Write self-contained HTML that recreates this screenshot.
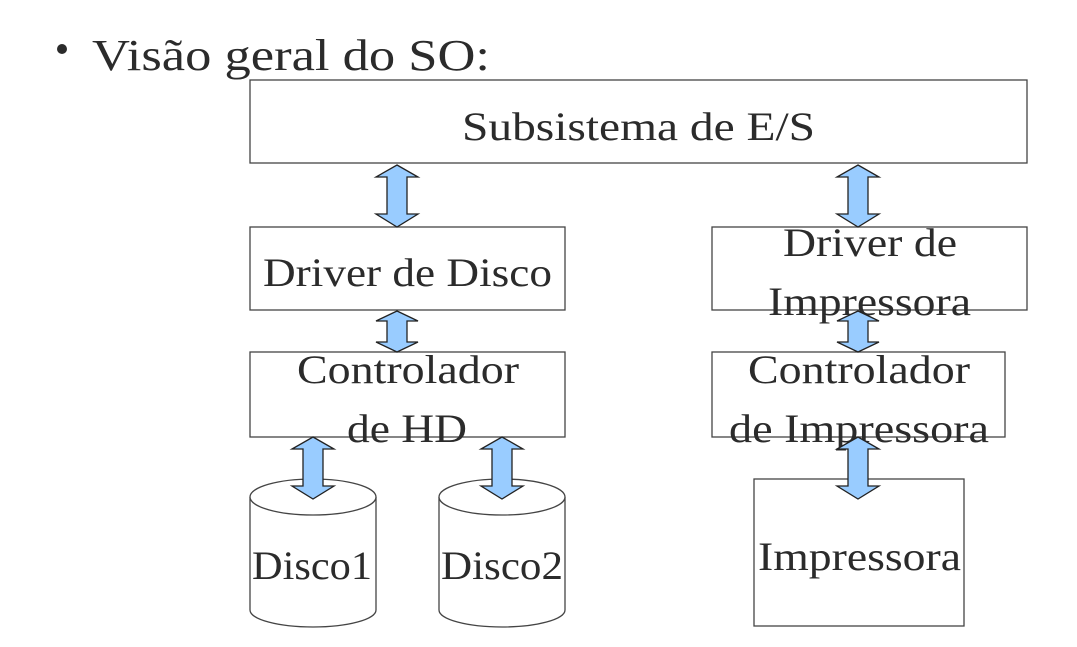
<!DOCTYPE html>
<html><head><meta charset="utf-8"><style>
html,body{margin:0;padding:0;background:#fff;}
svg{display:block;}
text{font-family:"Liberation Serif",serif;fill:#2b2b2b;}
</style></head><body>
<svg width="1077" height="647" viewBox="0 0 1077 647" xmlns="http://www.w3.org/2000/svg">
<defs>
<g id="arr">
<path d="M0,0 L21,12 L10,12 L10,49 L21,49 L0,62 L-21,49 L-10,49 L-10,12 L-21,12 Z" fill="#99ccff" stroke="#222" stroke-width="1.3"/>
</g>
<g id="arrs">
<path d="M0,0 L21,10 L10,10 L10,31 L21,31 L0,41 L-21,31 L-10,31 L-10,10 L-21,10 Z" fill="#99ccff" stroke="#222" stroke-width="1.3"/>
</g>
</defs>
<circle cx="62" cy="49" r="5" fill="#2b2b2b"/>
<text x="92" y="70" font-size="44" textLength="398" lengthAdjust="spacingAndGlyphs">Visão geral do SO:</text>

<g fill="#fff" stroke="#444" stroke-width="1.3">
<rect x="250" y="80" width="777" height="83"/>
<rect x="250" y="227" width="315" height="83"/>
<rect x="712" y="227" width="315" height="83"/>
<rect x="250" y="352" width="315" height="85"/>
<rect x="712" y="352" width="293" height="85"/>
<rect x="754" y="479" width="210" height="147"/>
<path d="M250,497 L250,610 A63,17 0 0 0 376,610 L376,497"/>
<ellipse cx="313" cy="497" rx="63" ry="18"/>
<path d="M439,497 L439,610 A63,17 0 0 0 565,610 L565,497"/>
<ellipse cx="502" cy="497" rx="63" ry="18"/>
</g>

<g font-size="40" lengthAdjust="spacingAndGlyphs">
<text x="462" y="140" textLength="353" lengthAdjust="spacingAndGlyphs">Subsistema de E/S</text>
<text x="263" y="286" textLength="289" lengthAdjust="spacingAndGlyphs">Driver de Disco</text>
<text x="783" y="256" textLength="174" lengthAdjust="spacingAndGlyphs">Driver de</text>
<text x="768" y="315" textLength="203" lengthAdjust="spacingAndGlyphs">Impressora</text>
<text x="297" y="383" textLength="222" lengthAdjust="spacingAndGlyphs">Controlador</text>
<text x="347" y="442" textLength="120" lengthAdjust="spacingAndGlyphs">de HD</text>
<text x="748" y="383" textLength="222" lengthAdjust="spacingAndGlyphs">Controlador</text>
<text x="729" y="442" textLength="260" lengthAdjust="spacingAndGlyphs">de Impressora</text>
<text x="758" y="570" textLength="203" lengthAdjust="spacingAndGlyphs">Impressora</text>
<text x="252" y="579" textLength="120" lengthAdjust="spacingAndGlyphs">Disco1</text>
<text x="441" y="579" textLength="122" lengthAdjust="spacingAndGlyphs">Disco2</text>
</g>

<use href="#arr" x="397" y="165"/>
<use href="#arr" x="858" y="165"/>
<use href="#arrs" x="397" y="311"/>
<use href="#arrs" x="858" y="311"/>
<use href="#arr" x="313" y="437"/>
<use href="#arr" x="502" y="437"/>
<use href="#arr" x="858" y="437"/>
</svg>
</body></html>
